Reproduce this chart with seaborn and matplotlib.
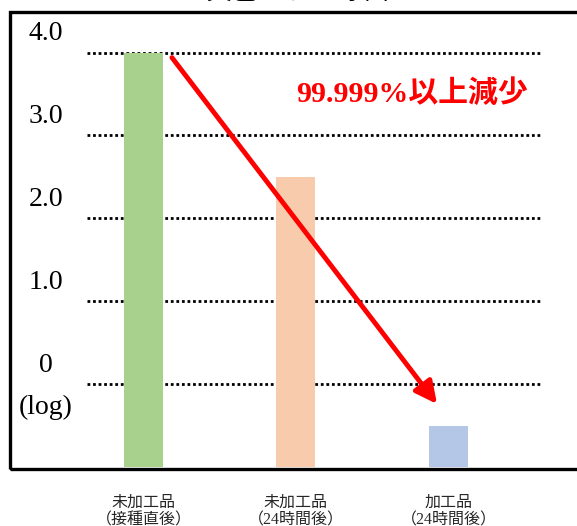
import numpy as np
import pandas as pd
import matplotlib
matplotlib.use("Agg")
import matplotlib.pyplot as plt
from matplotlib.patches import Rectangle
import seaborn as sns

# データ（log値）
categories = ["未加工品\n（接種直後）", "未加工品\n（24時間後）", "加工品\n（24時間後）"]
log_values = [4.0, 2.5, -0.5]
bar_colors = ["#a9d18e", "#f8cbad", "#b4c7e7"]
y_ticks = [4.0, 3.0, 2.0, 1.0, 0]
y_tick_labels = ["4.0", "3.0", "2.0", "1.0", "0"]
baseline = -1.0
title_text = "黄色ブドウ球菌"
note_text = "99.999%以上減少"

sns.set_theme(style="white")
plt.rcParams["font.family"] = ["Liberation Serif", "Noto Sans CJK JP", "DejaVu Sans"]

W, H = 577, 526
fig = plt.figure(figsize=(W / 100, H / 100), dpi=100)
ax = fig.add_axes([87 / W, (H - 467) / H, (543 - 87) / W, (467 - 12) / H])

df = pd.DataFrame({"cat": categories, "val": log_values})
df["height"] = df["val"] - baseline
sns.barplot(data=df, x="cat", y="height", hue="cat", palette=bar_colors,
            legend=False, width=0.256, bottom=baseline, ax=ax, saturation=1,
            edgecolor="none", linewidth=0)

ax.set_xlim(-0.37, 2.62)
ax.set_ylim(baseline, 4.49)
for s in ax.spines.values():
    s.set_visible(False)
ax.set_xlabel("")
ax.set_ylabel("")
ax.set_yticks([])
ax.tick_params(axis="x", length=0, pad=20, labelsize=11.5)
for lab in ax.get_xticklabels():
    lab.set_linespacing(1.1)
    lab.set_va("top")

# 点線グリッド
for v in y_ticks:
    ax.axhline(v, color="black", lw=2, ls=(0, (1, 1)), zorder=0)

# y軸ラベル（グリッドの上）
for v, t in zip(y_ticks, y_tick_labels):
    ax.annotate(t, xy=(0, v), xycoords=("figure fraction", "data"),
                xytext=(46, 19), textcoords="offset pixels",
                ha="center", va="center", fontsize=20, color="black")
ax.annotate("(log)", xy=(0, 0), xycoords=("figure fraction", "data"),
            xytext=(46, -23), textcoords="offset pixels",
            ha="center", va="center", fontsize=20, color="black")

# 矢印と注記
ax.annotate("", xy=(1.925, -0.24), xytext=(0.187, 3.94),
            arrowprops=dict(arrowstyle="-|>,head_length=1.1,head_width=0.55",
                            color="#ff0000", lw=3.5, shrinkA=0, shrinkB=0))
fig.text(296 / W, 1 - 94 / H, note_text, color="#ff0000",
         fontsize=21.5, fontweight="bold", ha="left", va="center")

# 外枠
fig.patches.append(Rectangle((9.5 / W, 1 - 468.5 / H), 1.2, (468.5 - 11.5) / H,
                             transform=fig.transFigure, fill=False,
                             edgecolor="black", lw=2.4, zorder=5))

# タイトル（上端で切れている）
fig.text(298 / W, 1 + 9 / H, title_text, ha="center", va="center",
         fontsize=19, color="black")

fig.savefig("out.png", dpi=100)
